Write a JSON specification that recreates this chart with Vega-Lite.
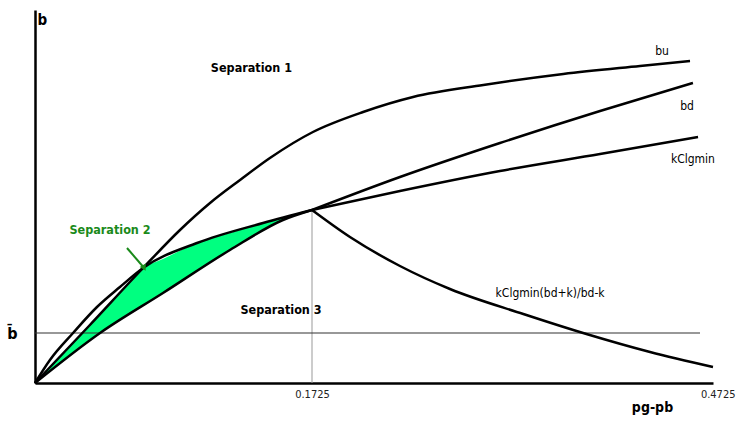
{
  "$schema": "https://vega.github.io/schema/vega-lite/v6.json",
  "autosize": {"type": "none"},
  "padding": {"left": 35, "top": 10, "right": 23, "bottom": 46},
  "width": 678,
  "height": 373,
  "background": "white",
  "config": {"view": {"stroke": null}, "font": "DejaVu Sans Condensed, sans-serif"},
  "datasets": {
    "green": [
      {"x": 0, "y": 0, "y2": 0},
      {"x": 0.0156, "y": 26, "y2": 19},
      {"x": 0.0299, "y": 51, "y2": 37},
      {"x": 0.0405, "y": 69, "y2": 50},
      {"x": 0.0529, "y": 90, "y2": 63},
      {"x": 0.0673, "y": 115, "y2": 77},
      {"x": 0.0797, "y": 124, "y2": 90},
      {"x": 0.1009, "y": 140, "y2": 112},
      {"x": 0.1214, "y": 150, "y2": 133},
      {"x": 0.1420, "y": 160, "y2": 152},
      {"x": 0.1544, "y": 165, "y2": 163},
      {"x": 0.1725, "y": 173, "y2": 173}
    ],
    "curves": [
      {"series": "bu", "x": 0, "y": 0},
      {"series": "bu", "x": 0.0336, "y": 57},
      {"series": "bu", "x": 0.0673, "y": 115},
      {"series": "bu", "x": 0.0903, "y": 153},
      {"series": "bu", "x": 0.1090, "y": 180},
      {"series": "bu", "x": 0.1277, "y": 203},
      {"series": "bu", "x": 0.1463, "y": 225},
      {"series": "bu", "x": 0.1732, "y": 251},
      {"series": "bu", "x": 0.2107, "y": 271},
      {"series": "bu", "x": 0.2481, "y": 286},
      {"series": "bu", "x": 0.3007, "y": 298},
      {"series": "bu", "x": 0.3605, "y": 309},
      {"series": "bu", "x": 0.4179, "y": 317},
      {"series": "bu", "x": 0.4553, "y": 322},
      {"series": "upper", "x": 0, "y": 0},
      {"series": "upper", "x": 0.0093, "y": 23},
      {"series": "upper", "x": 0.0237, "y": 50},
      {"series": "upper", "x": 0.0386, "y": 76},
      {"series": "upper", "x": 0.0529, "y": 96},
      {"series": "upper", "x": 0.0673, "y": 115},
      {"series": "upper", "x": 0.1009, "y": 140},
      {"series": "upper", "x": 0.1420, "y": 160},
      {"series": "upper", "x": 0.1725, "y": 173},
      {"series": "lower", "x": 0, "y": 0},
      {"series": "lower", "x": 0.0405, "y": 50},
      {"series": "lower", "x": 0.0797, "y": 90},
      {"series": "lower", "x": 0.1214, "y": 133},
      {"series": "lower", "x": 0.1544, "y": 163},
      {"series": "lower", "x": 0.1725, "y": 173},
      {"series": "bd", "x": 0.1725, "y": 173},
      {"series": "bd", "x": 0.2383, "y": 206},
      {"series": "bd", "x": 0.3131, "y": 240},
      {"series": "bd", "x": 0.3880, "y": 272},
      {"series": "bd", "x": 0.4575, "y": 300},
      {"series": "kClgmin", "x": 0.1725, "y": 173},
      {"series": "kClgmin", "x": 0.2383, "y": 192},
      {"series": "kClgmin", "x": 0.3131, "y": 212},
      {"series": "kClgmin", "x": 0.3880, "y": 229},
      {"series": "kClgmin", "x": 0.4613, "y": 246},
      {"series": "desc", "x": 0.1725, "y": 173},
      {"series": "desc", "x": 0.2009, "y": 146},
      {"series": "desc", "x": 0.2383, "y": 117},
      {"series": "desc", "x": 0.2757, "y": 94},
      {"series": "desc", "x": 0.3306, "y": 69},
      {"series": "desc", "x": 0.3778, "y": 49},
      {"series": "desc", "x": 0.4254, "y": 31},
      {"series": "desc", "x": 0.4725, "y": 16}
    ],
    "blackLabels": [
      {"label": "Separation 1", "x": 0.1348, "y": 315},
      {"label": "Separation 3", "x": 0.1532, "y": 73}
    ],
    "curveLabels": [
      {"label": "bu", "x": 0.4344, "y": 332},
      {"label": "bd", "x": 0.4531, "y": 277},
      {"label": "kClgmin", "x": 0.4575, "y": 224},
      {"label": "kClgmin(bd+k)/bd-k", "x": 0.3506, "y": 90}
    ],
    "greenLabel": [
      {"label": "Separation 2", "x": 0.0467, "y": 153}
    ],
    "arrow": [
      {"x": 0.0573, "y": 135, "x2": 0.0680, "y2": 115}
    ],
    "arrowHead": [
      {"x": 0.0680, "y": 115}
    ],
    "bbar": [
      {"x": 0, "x2": 0.4628, "y": 50}
    ],
    "vline": [
      {"x": 0.1725, "y": 0, "y2": 173}
    ]
  },
  "encoding": {
    "x": {
      "field": "x", "type": "quantitative",
      "scale": {"type": "linear", "domain": [0, 0.1725, 0.4725], "range": [0, 277, 678], "nice": false, "zero": false},
      "axis": {
        "values": [0.1725, 0.4725],
        "format": ".4f",
        "grid": false, "ticks": false,
        "domainColor": "black", "domainWidth": 2.5,
        "labelFont": "DejaVu Sans Condensed, sans-serif",
        "labelFontSize": 11, "labelColor": "#222", "labelPadding": 5,
        "labelAlign": {"condition": {"test": "datum.value > 0.3", "value": "right"}, "value": "center"},
        "labelOffset": {"condition": {"test": "datum.value > 0.3", "value": 22}, "value": 0},
        "labelFlush": false, "labelBound": false, "labelOverlap": false,
        "title": "pg-pb", "titleFontSize": 14, "titleFontWeight": "bold", "titleColor": "black",
        "titleFont": "DejaVu Sans Condensed, sans-serif",
        "titleX": 617, "titleY": 28, "titleAlign": "center", "titleBaseline": "alphabetic"
      }
    },
    "y": {
      "field": "y", "type": "quantitative",
      "scale": {"domain": [0, 373], "nice": false, "zero": false},
      "axis": {
        "values": [50],
        "labelExpr": "'b\u0304'",
        "grid": false, "ticks": false,
        "domainColor": "black", "domainWidth": 2.5,
        "labelFont": "DejaVu Sans Condensed, sans-serif",
        "labelFontSize": 16, "labelFontWeight": "bold", "labelColor": "black", "labelPadding": 18,
        "title": "b", "titleAngle": 0, "titleFontSize": 15, "titleFontWeight": "bold", "titleColor": "black",
        "titleFont": "DejaVu Sans Condensed, sans-serif",
        "titleX": 2, "titleY": 14, "titleAlign": "left", "titleBaseline": "alphabetic"
      }
    }
  },
  "layer": [
    {
      "data": {"name": "green"},
      "mark": {"type": "area", "color": "#00ff80", "interpolate": "monotone"},
      "encoding": {"y2": {"field": "y2"}}
    },
    {
      "data": {"name": "vline"},
      "mark": {"type": "rule", "color": "#999999", "strokeWidth": 1},
      "encoding": {"y2": {"field": "y2"}}
    },
    {
      "data": {"name": "bbar"},
      "mark": {"type": "rule", "color": "#333333", "strokeWidth": 1.2},
      "encoding": {"x2": {"field": "x2"}}
    },
    {
      "data": {"name": "curves"},
      "mark": {"type": "line", "color": "black", "strokeWidth": 2.5, "interpolate": "monotone"},
      "encoding": {"detail": {"field": "series"}}
    },
    {
      "data": {"name": "arrow"},
      "mark": {"type": "rule", "color": "#1a8a1a", "strokeWidth": 2},
      "encoding": {"x2": {"field": "x2"}, "y2": {"field": "y2"}}
    },
    {
      "data": {"name": "arrowHead"},
      "mark": {"type": "point", "shape": "triangle-up", "filled": true, "color": "#1a8a1a", "size": 50, "angle": 151, "opacity": 1},
      "encoding": {}
    },
    {
      "data": {"name": "blackLabels"},
      "mark": {"type": "text", "fontSize": 12.5, "fontWeight": "bold", "color": "black", "align": "center", "baseline": "middle"},
      "encoding": {"text": {"field": "label"}}
    },
    {
      "data": {"name": "greenLabel"},
      "mark": {"type": "text", "fontSize": 12.5, "fontWeight": "bold", "color": "#1a8a1a", "align": "center", "baseline": "middle"},
      "encoding": {"text": {"field": "label"}}
    },
    {
      "data": {"name": "curveLabels"},
      "mark": {"type": "text", "fontSize": 12, "color": "black", "align": "center", "baseline": "middle"},
      "encoding": {"text": {"field": "label"}}
    }
  ]
}
